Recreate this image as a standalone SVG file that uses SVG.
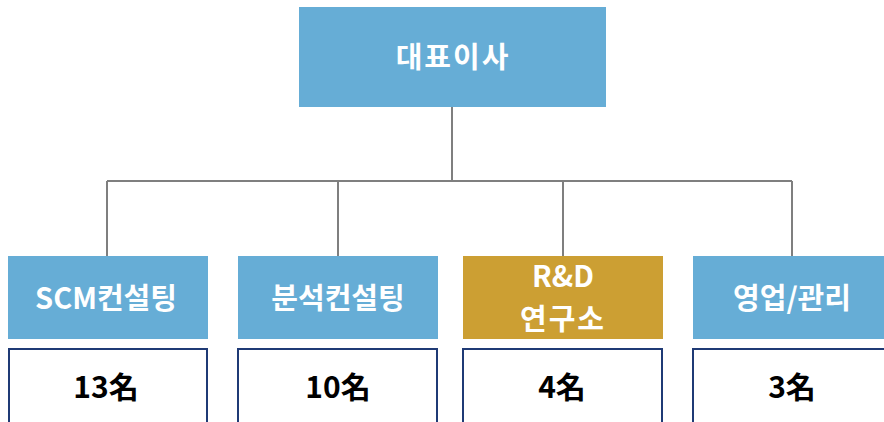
<svg xmlns="http://www.w3.org/2000/svg" width="884" height="422" viewBox="0 0 884 422">
<style>
.blue{fill:#66ADD6}
.gold{fill:#CC9F33}
.cnt{fill:#FFFFFF;stroke:#1F3A75;stroke-width:2}
.wt{fill:#FFFFFF;font-family:"Noto Sans CJK KR","Noto Sans",sans-serif;font-weight:bold;font-size:29px;text-anchor:middle}
.bt{fill:#000000;font-family:"Noto Sans CJK KR","Noto Sans",sans-serif;font-weight:bold;font-size:30px;text-anchor:middle}
.ln{stroke:#7F7F7F;stroke-width:2;fill:none}
</style>
<rect width="884" height="422" fill="#FFFFFF"/>
<g id="connectors">
<path class="ln" d="M452 107 V181 M107 181 H792 M107 181 V256 M338 181 V256 M563 181 V256 M792 181 V256"/>
</g>
<g id="ceo">
<rect class="blue" x="299" y="7" width="307" height="100"/>
<text class="wt" x="453" y="68" letter-spacing="2">대표이사</text>
</g>
<g id="scm">
<rect class="blue" x="8" y="256" width="200" height="83"/>
<text class="wt" x="106" y="309">SCM컨설팅</text>
</g>
<g id="scm-count">
<rect class="cnt" x="9" y="349" width="198" height="90"/>
<text class="bt" x="106" y="398">13名</text>
</g>
<g id="analysis">
<rect class="blue" x="238" y="256" width="200" height="83"/>
<text class="wt" x="338" y="309">분석컨설팅</text>
</g>
<g id="analysis-count">
<rect class="cnt" x="238" y="349" width="199" height="90"/>
<text class="bt" x="338" y="398">10名</text>
</g>
<g id="rnd">
<rect class="gold" x="463" y="256" width="200" height="83"/>
<text class="wt" x="563" y="287">R&amp;D</text>
<text class="wt" x="563" y="330" letter-spacing="2">연구소</text>
</g>
<g id="rnd-count">
<rect class="cnt" x="463" y="349" width="199" height="90"/>
<text class="bt" x="562" y="398">4名</text>
</g>
<g id="sales">
<rect class="blue" x="693" y="256" width="200" height="83"/>
<text class="wt" x="792" y="309">영업/관리</text>
</g>
<g id="sales-count">
<rect class="cnt" x="693" y="349" width="199" height="90"/>
<text class="bt" x="792" y="398">3名</text>
</g>
</svg>
